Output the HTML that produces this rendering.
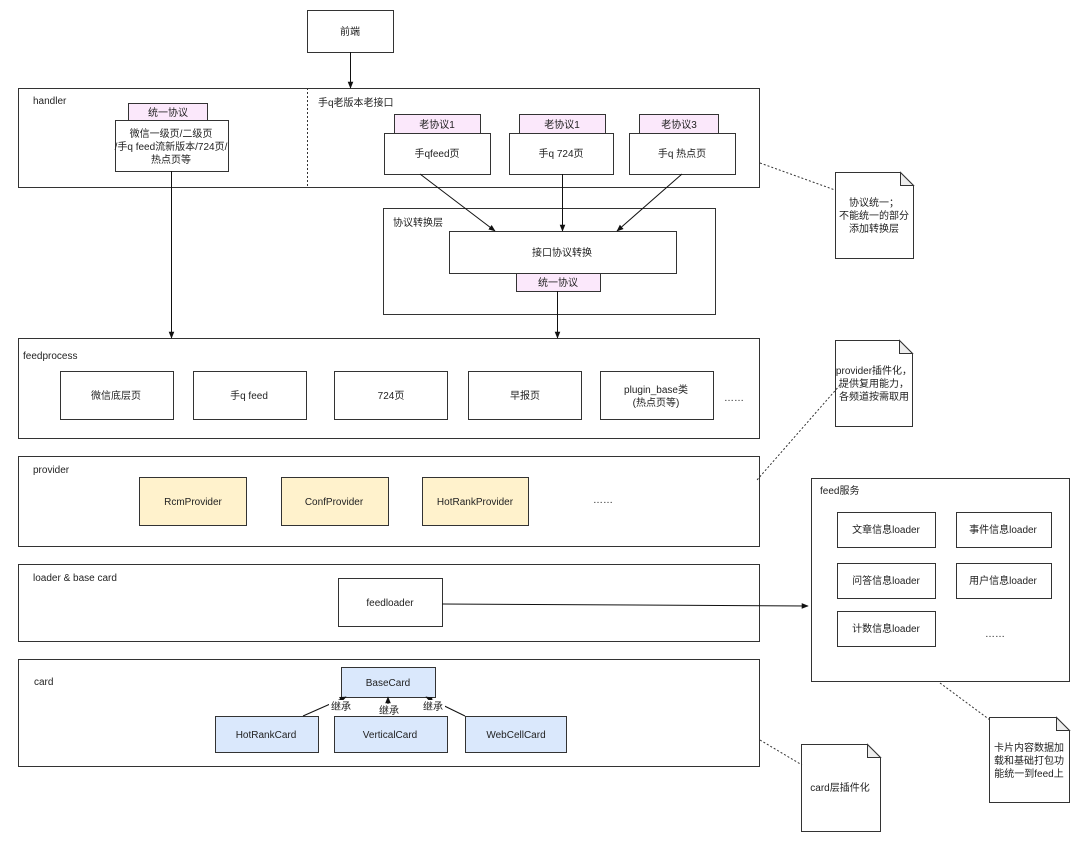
<!DOCTYPE html>
<html><head><meta charset="utf-8"><style>
html,body{margin:0;padding:0;background:#fff;}
svg{display:block;}
text{font-family:"Liberation Sans","Noto Sans CJK SC",sans-serif;font-size:10px;fill:#222;}
</style></head><body>
<svg width="1080" height="842" viewBox="0 0 1080 842" xmlns="http://www.w3.org/2000/svg">
<defs>
<marker id="a" viewBox="0 0 10 10" refX="9" refY="5" markerWidth="7" markerHeight="7" orient="auto"><path d="M0,1 L10,5 L0,9 z" fill="#111"/></marker>
</defs>
<g fill="#fff" stroke="#333" stroke-width="1">
<rect x="307.5" y="10.5" width="86" height="42"/>
<rect x="18.5" y="88.5" width="741" height="99"/>
<rect x="383.5" y="208.5" width="332" height="106"/>
<rect x="18.5" y="338.5" width="741" height="100"/>
<rect x="18.5" y="456.5" width="741" height="90"/>
<rect x="18.5" y="564.5" width="741" height="77"/>
<rect x="18.5" y="659.5" width="741" height="107"/>
<rect x="811.5" y="478.5" width="258" height="203"/>
</g>
<line x1="307.5" y1="88" x2="307.5" y2="187" stroke="#333" stroke-dasharray="2,2"/>
<g fill="#fbe8fb" stroke="#333">
<rect x="128.5" y="103.5" width="79" height="17"/>
<rect x="394.5" y="114.5" width="86" height="19"/>
<rect x="519.5" y="114.5" width="86" height="19"/>
<rect x="639.5" y="114.5" width="79" height="19"/>
<rect x="516.5" y="273.5" width="84" height="18"/>
</g>
<g fill="#fff" stroke="#333">
<rect x="115.5" y="120.5" width="113" height="51"/>
<rect x="384.5" y="133.5" width="106" height="41"/>
<rect x="509.5" y="133.5" width="104" height="41"/>
<rect x="629.5" y="133.5" width="106" height="41"/>
<rect x="449.5" y="231.5" width="227" height="42"/>
<rect x="60.5" y="371.5" width="113" height="48"/>
<rect x="193.5" y="371.5" width="113" height="48"/>
<rect x="334.5" y="371.5" width="113" height="48"/>
<rect x="468.5" y="371.5" width="113" height="48"/>
<rect x="600.5" y="371.5" width="113" height="48"/>
<rect x="338.5" y="578.5" width="104" height="48"/>
<rect x="837.5" y="512.5" width="98" height="35"/>
<rect x="956.5" y="512.5" width="95" height="35"/>
<rect x="837.5" y="563.5" width="98" height="35"/>
<rect x="956.5" y="563.5" width="95" height="35"/>
<rect x="837.5" y="611.5" width="98" height="35"/>
</g>
<g fill="#fff2cc" stroke="#333">
<rect x="139.5" y="477.5" width="107" height="48"/>
<rect x="281.5" y="477.5" width="107" height="48"/>
<rect x="422.5" y="477.5" width="106" height="48"/>
</g>
<g fill="#dae8fc" stroke="#333">
<rect x="341.5" y="667.5" width="94" height="30"/>
<rect x="215.5" y="716.5" width="103" height="36"/>
<rect x="334.5" y="716.5" width="113" height="36"/>
<rect x="465.5" y="716.5" width="101" height="36"/>
</g>
<!-- notes -->
<g fill="#fff" stroke="#333">
<path d="M835.5,172.5 H900.5 L913.5,185.5 V258.5 H835.5 Z"/>
<path d="M835.5,340.5 H899.5 L912.5,353.5 V426.5 H835.5 Z"/>
<path d="M989.5,717.5 H1056.5 L1069.5,730.5 V802.5 H989.5 Z"/>
<path d="M801.5,744.5 H867.5 L880.5,757.5 V831.5 H801.5 Z"/>
</g>
<g fill="#eee" stroke="#333">
<path d="M900.5,172.5 V185.5 H913.5 Z"/>
<path d="M899.5,340.5 V353.5 H912.5 Z"/>
<path d="M1056.5,717.5 V730.5 H1069.5 Z"/>
<path d="M867.5,744.5 V757.5 H880.5 Z"/>
</g>
<g stroke="#333" stroke-dasharray="2,2" fill="none">
<line x1="760" y1="163" x2="835" y2="190"/>
<line x1="840" y1="385" x2="757" y2="480"/>
<line x1="940" y1="683" x2="990" y2="720"/>
<line x1="760" y1="740" x2="802" y2="765"/>
</g>
<g stroke="#111" fill="none" marker-end="url(#a)">
<line x1="350.5" y1="52" x2="350.5" y2="88"/>
<line x1="171.5" y1="171" x2="171.5" y2="338"/>
<line x1="420" y1="174" x2="495" y2="231"/>
<line x1="562.5" y1="174" x2="562.5" y2="231"/>
<line x1="682" y1="174" x2="617" y2="231"/>
<line x1="557.5" y1="291" x2="557.5" y2="338"/>
<line x1="442" y1="604" x2="808" y2="606"/>
<line x1="303" y1="716" x2="346" y2="697"/>
<line x1="388" y1="716" x2="388" y2="697"/>
<line x1="465" y1="716" x2="426" y2="697"/>
</g>
<rect x="329" y="700" width="24" height="12" fill="#fff"/>
<rect x="377" y="704" width="24" height="12" fill="#fff"/>
<rect x="421" y="700" width="24" height="12" fill="#fff"/>
<g text-anchor="middle">
<text x="350" y="35">前端</text>
<text x="168" y="116">统一协议</text>
<text x="171" y="137">微信一级页/二级页</text>
<text x="171" y="150">/手q feed流新版本/724页/</text>
<text x="171" y="163">热点页等</text>
<text x="437" y="128">老协议1</text>
<text x="562" y="128">老协议1</text>
<text x="679" y="128">老协议3</text>
<text x="437" y="157">手qfeed页</text>
<text x="561" y="157">手q 724页</text>
<text x="682" y="157">手q 热点页</text>
<text x="562" y="256">接口协议转换</text>
<text x="558" y="286">统一协议</text>
<text x="116" y="399">微信底层页</text>
<text x="249" y="399">手q feed</text>
<text x="391" y="399">724页</text>
<text x="525" y="399">早报页</text>
<text x="656" y="393">plugin_base类</text>
<text x="656" y="406">(热点页等)</text>
<text x="193" y="505">RcmProvider</text>
<text x="334" y="505">ConfProvider</text>
<text x="475" y="505">HotRankProvider</text>
<text x="390" y="606">feedloader</text>
<text x="886" y="533">文章信息loader</text>
<text x="1003" y="533">事件信息loader</text>
<text x="886" y="584">问答信息loader</text>
<text x="1003" y="584">用户信息loader</text>
<text x="886" y="632">计数信息loader</text>
<text x="388" y="686">BaseCard</text>
<text x="266" y="738">HotRankCard</text>
<text x="390" y="738">VerticalCard</text>
<text x="516" y="738">WebCellCard</text>
<text x="341" y="710">继承</text>
<text x="389" y="714">继承</text>
<text x="433" y="710">继承</text>
<text x="874" y="206">协议统一；</text>
<text x="874" y="219">不能统一的部分</text>
<text x="874" y="232">添加转换层</text>
<text x="874" y="374">provider插件化，</text>
<text x="874" y="387">提供复用能力，</text>
<text x="874" y="400">各频道按需取用</text>
<text x="1029" y="751">卡片内容数据加</text>
<text x="1029" y="764">载和基础打包功</text>
<text x="1029" y="777">能统一到feed上</text>
<text x="840" y="791">card层插件化</text>
</g>
<text x="33" y="104">handler</text>
<text x="318" y="106">手q老版本老接口</text>
<text x="393" y="226">协议转换层</text>
<text x="23" y="359">feedprocess</text>
<text x="33" y="473">provider</text>
<text x="33" y="581">loader &amp; base card</text>
<text x="34" y="685">card</text>
<text x="820" y="494">feed服务</text>
<text x="724" y="401" fill="#666">……</text>
<text x="593" y="503" fill="#666">……</text>
<text x="985" y="637" fill="#666">……</text>
</svg>
</body></html>
